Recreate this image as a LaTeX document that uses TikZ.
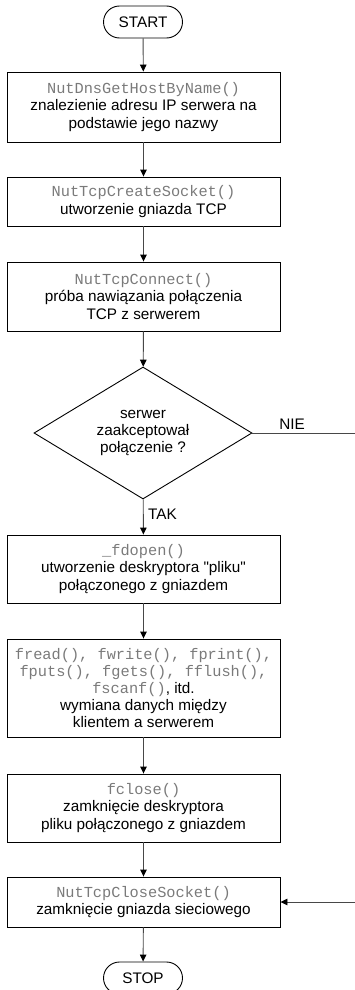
\documentclass[tikz,border=0pt]{standalone}
\usepackage{fontspec}
\setmainfont{Liberation Sans}
\setmonofont{Liberation Mono}
\usetikzlibrary{arrows.meta,shapes.geometric,shapes.misc}
\newcommand\fnc[1]{{\ttfamily\color{black!52}#1}}
\newcommand\fsz{\fontsize{15.3}{17.2}\selectfont}
\tikzset{
  box/.style={draw=black, line width=0.9pt, minimum width=273pt, inner sep=0pt, align=center, font=\fsz},
  term/.style={draw=black, line width=0.9pt, rounded rectangle, minimum width=79pt, minimum height=32pt, inner sep=0pt, font=\fsz},
  decision/.style={draw=black, line width=0.9pt, diamond, aspect=1.65, minimum width=218pt, minimum height=132pt, inner sep=0pt, align=center, font=\fsz},
  conn/.style={draw=black!72, line width=0.9pt, -{Triangle[length=7pt,width=6.5pt,color=black]}},
  lbl/.style={font=\fsz, inner sep=0pt}
}
\begin{document}
\begin{tikzpicture}[x=1pt,y=-1pt]
\useasboundingbox (0,0) rectangle (355,990);
\node[term] (start) at (143,22) {START};
\node[box, minimum height=70pt] (dns) at (143.5,107) {\fnc{NutDnsGetHostByName()}\\znalezienie adresu IP serwera na\\podstawie jego nazwy};
\node[box, minimum height=49pt] (sock) at (143.5,201.5) {\fnc{NutTcpCreateSocket()}\\utworzenie gniazda TCP};
\node[box, minimum height=69pt] (conn) at (143.5,296.5) {\fnc{NutTcpConnect()}\\próba nawiązania połączenia\\TCP z serwerem};
\node[decision] (dec) at (143,433) {serwer\\zaakceptował\\połączenie ?};
\node[box, minimum height=68pt] (fdo) at (143.5,569) {\fnc{\_fdopen()}\\utworzenie deskryptora \textquotedbl pliku\textquotedbl\\połączonego z gniazdem};
\node[box, minimum height=98pt] (io) at (143.5,688) {\fnc{fread(), fwrite(), fprint(),}\\\fnc{fputs(), fgets(), fflush(),}\\\fnc{fscanf()},~itd.\\wymiana danych między\\klientem a serwerem};
\node[box, minimum height=68pt] (fcl) at (143.5,808) {\fnc{fclose()}\\zamknięcie deskryptora\\pliku połączonego z gniazdem};
\node[box, minimum height=50pt] (close) at (143.5,902) {\fnc{NutTcpCloseSocket()}\\zamknięcie gniazda sieciowego};
\node[term] (stop) at (143,978) {STOP};
\coordinate (rx) at (358,433);
\draw[conn] (start) -- (dns);
\draw[conn] (dns) -- (sock);
\draw[conn] (sock) -- (conn);
\draw[conn] (conn) -- (dec);
\draw[conn] (dec) -- (fdo);
\draw[conn] (fdo) -- (io);
\draw[conn] (io) -- (fcl);
\draw[conn] (fcl) -- (close);
\draw[conn] (close) -- (stop);
\draw[conn] (dec.east) -- (rx) |- (close.east);
\node[lbl, anchor=south] (nie) at (292,430) {NIE};
\node[lbl, anchor=west] (tak) at (148,514) {TAK};
\end{tikzpicture}
\end{document}
